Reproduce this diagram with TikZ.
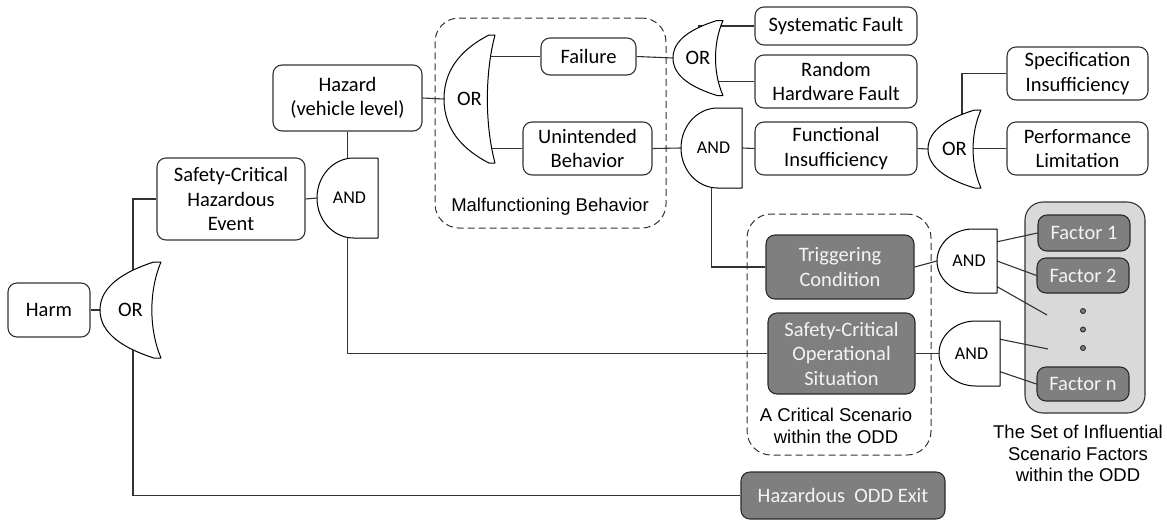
\documentclass[tikz,border=0pt]{standalone}
\usepackage{fontspec}
\setmainfont{Carlito}
\newfontfamily\arialf{Liberation Sans}
\usetikzlibrary{calc}
\definecolor{bordc}{HTML}{333333}
\definecolor{darkfill}{HTML}{7F7F7F}
\definecolor{darkbord}{HTML}{2B2B2B}
\definecolor{panelfill}{HTML}{D9D9D9}
\definecolor{lighttext}{HTML}{F4F4F4}
\pgfdeclarelayer{back}\pgfdeclarelayer{mid}\pgfsetlayers{back,mid,main}
\newcommand\bfnt{\fontsize{20.5}{24.5}\selectfont}
\newcommand\afnt{\arialf\fontsize{18.5}{21.8}\selectfont}
\newcommand\orgate[5]{%
 \pgfmathsetmacro\gxa{#2-#4/2}%
 \pgfmathsetmacro\gxb{#2+#4/2}%
 \pgfmathsetmacro\gyt{#3-#5/2}%
 \pgfmathsetmacro\gyb{#3+#5/2}%
 \pgfmathsetmacro\gbk{#2+#4/2-0.2*#4}%
 \pgfmathsetmacro\gcu{#3-#5/2+0.3*#5}%
 \pgfmathsetmacro\gcl{#3+#5/2-0.3*#5}%
 \pgfmathsetmacro\gfx{#2+#4/2-0.12*#4}%
 \pgfmathsetmacro\gfc{#2-#4/2+0.4*#4}%
 \pgfmathsetmacro\gfu{#3-#5/2+0.1*#5}%
 \pgfmathsetmacro\gfl{#3+#5/2-0.1*#5}%
 \pgfmathsetmacro\gtu{#3-0.25*#5}%
 \pgfmathsetmacro\gtl{#3+0.25*#5}%
 \node[gbox,minimum width=#4,minimum height=#5] (#1) at (#2,#3) {};
 \draw[gateline] (\gxb,\gyt) .. controls (\gbk,\gcu) and (\gbk,\gcl) .. (\gxb,\gyb) -- (\gfx,\gyb) .. controls (\gfc,\gfl) and (\gxa,\gtl) .. (\gxa,#3) .. controls (\gxa,\gtu) and (\gfc,\gfu) .. (\gfx,\gyt) -- cycle;
 \node[gatetext] at (#1.center) {OR};}
\newcommand\andgate[5]{%
 \pgfmathsetmacro\gxb{#2+#4/2}%
 \pgfmathsetmacro\gxc{#2+#4/2-0.4*#4}%
 \pgfmathsetmacro\gyt{#3-#5/2}%
 \pgfmathsetmacro\gyb{#3+#5/2}%
 \pgfmathsetmacro\grx{0.6*#4}%
 \pgfmathsetmacro\gry{#5/2}%
 \node[gbox,minimum width=#4,minimum height=#5] (#1) at (#2,#3) {};
 \draw[gateline] (\gxb,\gyt) -- (\gxb,\gyb) -- (\gxc,\gyb) arc[start angle=270,end angle=90,x radius=\grx pt,y radius=\gry pt] -- cycle;
 \node[gatetext,font=\fontsize{18}{20}\selectfont] at ([xshift=2pt]#1.center) {AND};}
\begin{document}
\begin{tikzpicture}[x=1pt,y=-1pt,
  box/.style={draw=bordc,line width=1.1pt,rounded corners=9pt,fill=white,inner sep=0pt,align=center,font=\bfnt,text=black},
  dbox/.style={box,fill=darkfill,draw=darkbord,text=lighttext},
  gbox/.style={shape=rectangle,inner sep=0pt,outer sep=0pt},
  gateline/.style={draw=black,line width=1pt,fill=white,line join=round},
  gatetext/.style={inner sep=0pt,font=\bfnt,text=black},
  conn/.style={draw=bordc,line width=1.1pt},
  dashbox/.style={draw=bordc,line width=1pt,dash pattern=on 7pt off 4pt,rounded corners=24pt,inner sep=0pt},
  panel/.style={draw=bordc,fill=panelfill,line width=1.1pt,rounded corners=18pt,inner sep=0pt},
  lab/.style={align=center,font=\afnt,text=black,inner sep=0pt},
  dotn/.style={circle,draw=darkbord,fill=darkfill,line width=0.9pt,minimum size=5pt,inner sep=0pt}]
\useasboundingbox (0,0) rectangle (1167,520);

\begin{pgfonlayer}{back}
\node[dashbox,minimum width=231,minimum height=210] (malf) at (550.5,123) {};
\node[dashbox,minimum width=184,minimum height=241] (crit) at (839,334.5) {};
\node[panel,minimum width=120,minimum height=211] (pan) at (1085,307.5) {};
\end{pgfonlayer}

\node[lab] (malflab) at (550,207) {Malfunctioning Behavior};
\node[lab] (critlab) at (836,426) {A Critical Scenario\\within the ODD};
\node[lab] (panlab) at (1078,453.5) {The Set of Influential\\Scenario Factors\\within the ODD};

% boxes
\node[box,minimum width=82,minimum height=54] (harm) at (49,310) {Harm};
\node[box,minimum width=148,minimum height=82] (sche) at (231,199) {Safety-Critical\\Hazardous\\Event};
\node[box,minimum width=149,minimum height=66] (haz) at (347.5,98) {Hazard\\(vehicle level)};
\node[box,minimum width=95,minimum height=37] (fail) at (588.5,56.5) {Failure};
\node[box,minimum width=129,minimum height=53] (ub) at (587.5,148.5) {Unintended\\Behavior};
\node[box,minimum width=162,minimum height=38] (sf) at (836,26) {Systematic Fault};
\node[box,minimum width=162,minimum height=53] (rhf) at (836,81.5) {Random\\Hardware Fault};
\node[box,minimum width=162,minimum height=53] (fi) at (836,148.5) {Functional\\Insufficiency};
\node[box,minimum width=141,minimum height=53] (si) at (1077.5,73.5) {Specification\\Insufficiency};
\node[box,minimum width=141,minimum height=53] (pl) at (1077.5,148.5) {Performance\\Limitation};
\node[dbox,minimum width=148,minimum height=64] (tc) at (840,267) {Triggering\\Condition};
\node[dbox,minimum width=147,minimum height=81] (scos) at (841.5,353.5) {Safety-Critical\\Operational\\Situation};
\node[dbox,minimum width=204,minimum height=47] (hoe) at (843,495.5) {Hazardous\hspace{0.45em}ODD Exit};
\node[dbox,minimum width=92,minimum height=36] (f1) at (1084,233) {Factor 1};
\node[dbox,minimum width=92,minimum height=35] (f2) at (1083,275.5) {Factor 2};
\node[dbox,minimum width=92,minimum height=34] (fn) at (1083,384) {Factor n};
\node[dotn] (d1) at (1083,311) {};
\node[dotn] (d2) at (1083,329.5) {};
\node[dotn] (d3) at (1083,348) {};

% gates
\orgate{or1}{130.5}{310}{61}{96}
\andgate{and1}{347.5}{198}{61}{80}
\orgate{or2}{469.5}{99}{51}{128}
\orgate{or3}{698}{58}{50}{75}
\andgate{and2}{711.5}{148}{61}{80}
\orgate{or4}{954.5}{149}{53}{78}
\andgate{and3}{967}{261}{60}{64}
\andgate{and4}{969.5}{353.5}{61}{65}

\coordinate (orv) at (133,400);
\coordinate (or4in) at (962,149);
\coordinate (e3) at (1047,315);
\coordinate (e4) at (1048,349);

\begin{pgfonlayer}{mid}
\draw[conn] (harm.east) -- (or1.west);
\draw[conn] (sche.west) -| (orv) |- (hoe.west);
\draw[conn] (sche.east) -- (and1.west);
\draw[conn] (haz.south) -- (and1.north);
\draw[conn] (and1.south) |- (scos.west);
\draw[conn] (haz.east) -- (or2.west);
\draw[conn] (fail.west) -- (fail.west -| or2.center);
\draw[conn] (ub.west) -- (ub.west -| or2.center);
\draw[conn] (fail.east) -- (or3.west);
\draw[conn] (sf.west) -- (sf.west -| or3.center);
\draw[conn] (rhf.west) -- (rhf.west -| or3.center);
\draw[conn] (ub.east) -- (and2.west);
\draw[conn] (and2.east) -- (fi.west);
\draw[conn] (fi.east) -- (or4.west);
\draw[conn] (or4in) |- (si.west);
\draw[conn] (pl.west) -- (pl.west -| or4.center);
\draw[conn] (and2.south) |- (tc.west);
\draw[conn] (tc.east) -- (and3.west);
\draw[conn] (scos.east) -- (and4.west);
\draw[conn] ($(and3.north east)!0.2!(and3.south east)$) -- (f1.west);
\draw[conn] (and3.east) -- (f2.west);
\draw[conn] ($(and3.north east)!0.9!(and3.south east)$) -- (e3);
\draw[conn] ($(and4.north east)!0.28!(and4.south east)$) -- (e4);
\draw[conn] ($(and4.north east)!0.78!(and4.south east)$) -- (fn.west);
\end{pgfonlayer}
\end{tikzpicture}
\end{document}
